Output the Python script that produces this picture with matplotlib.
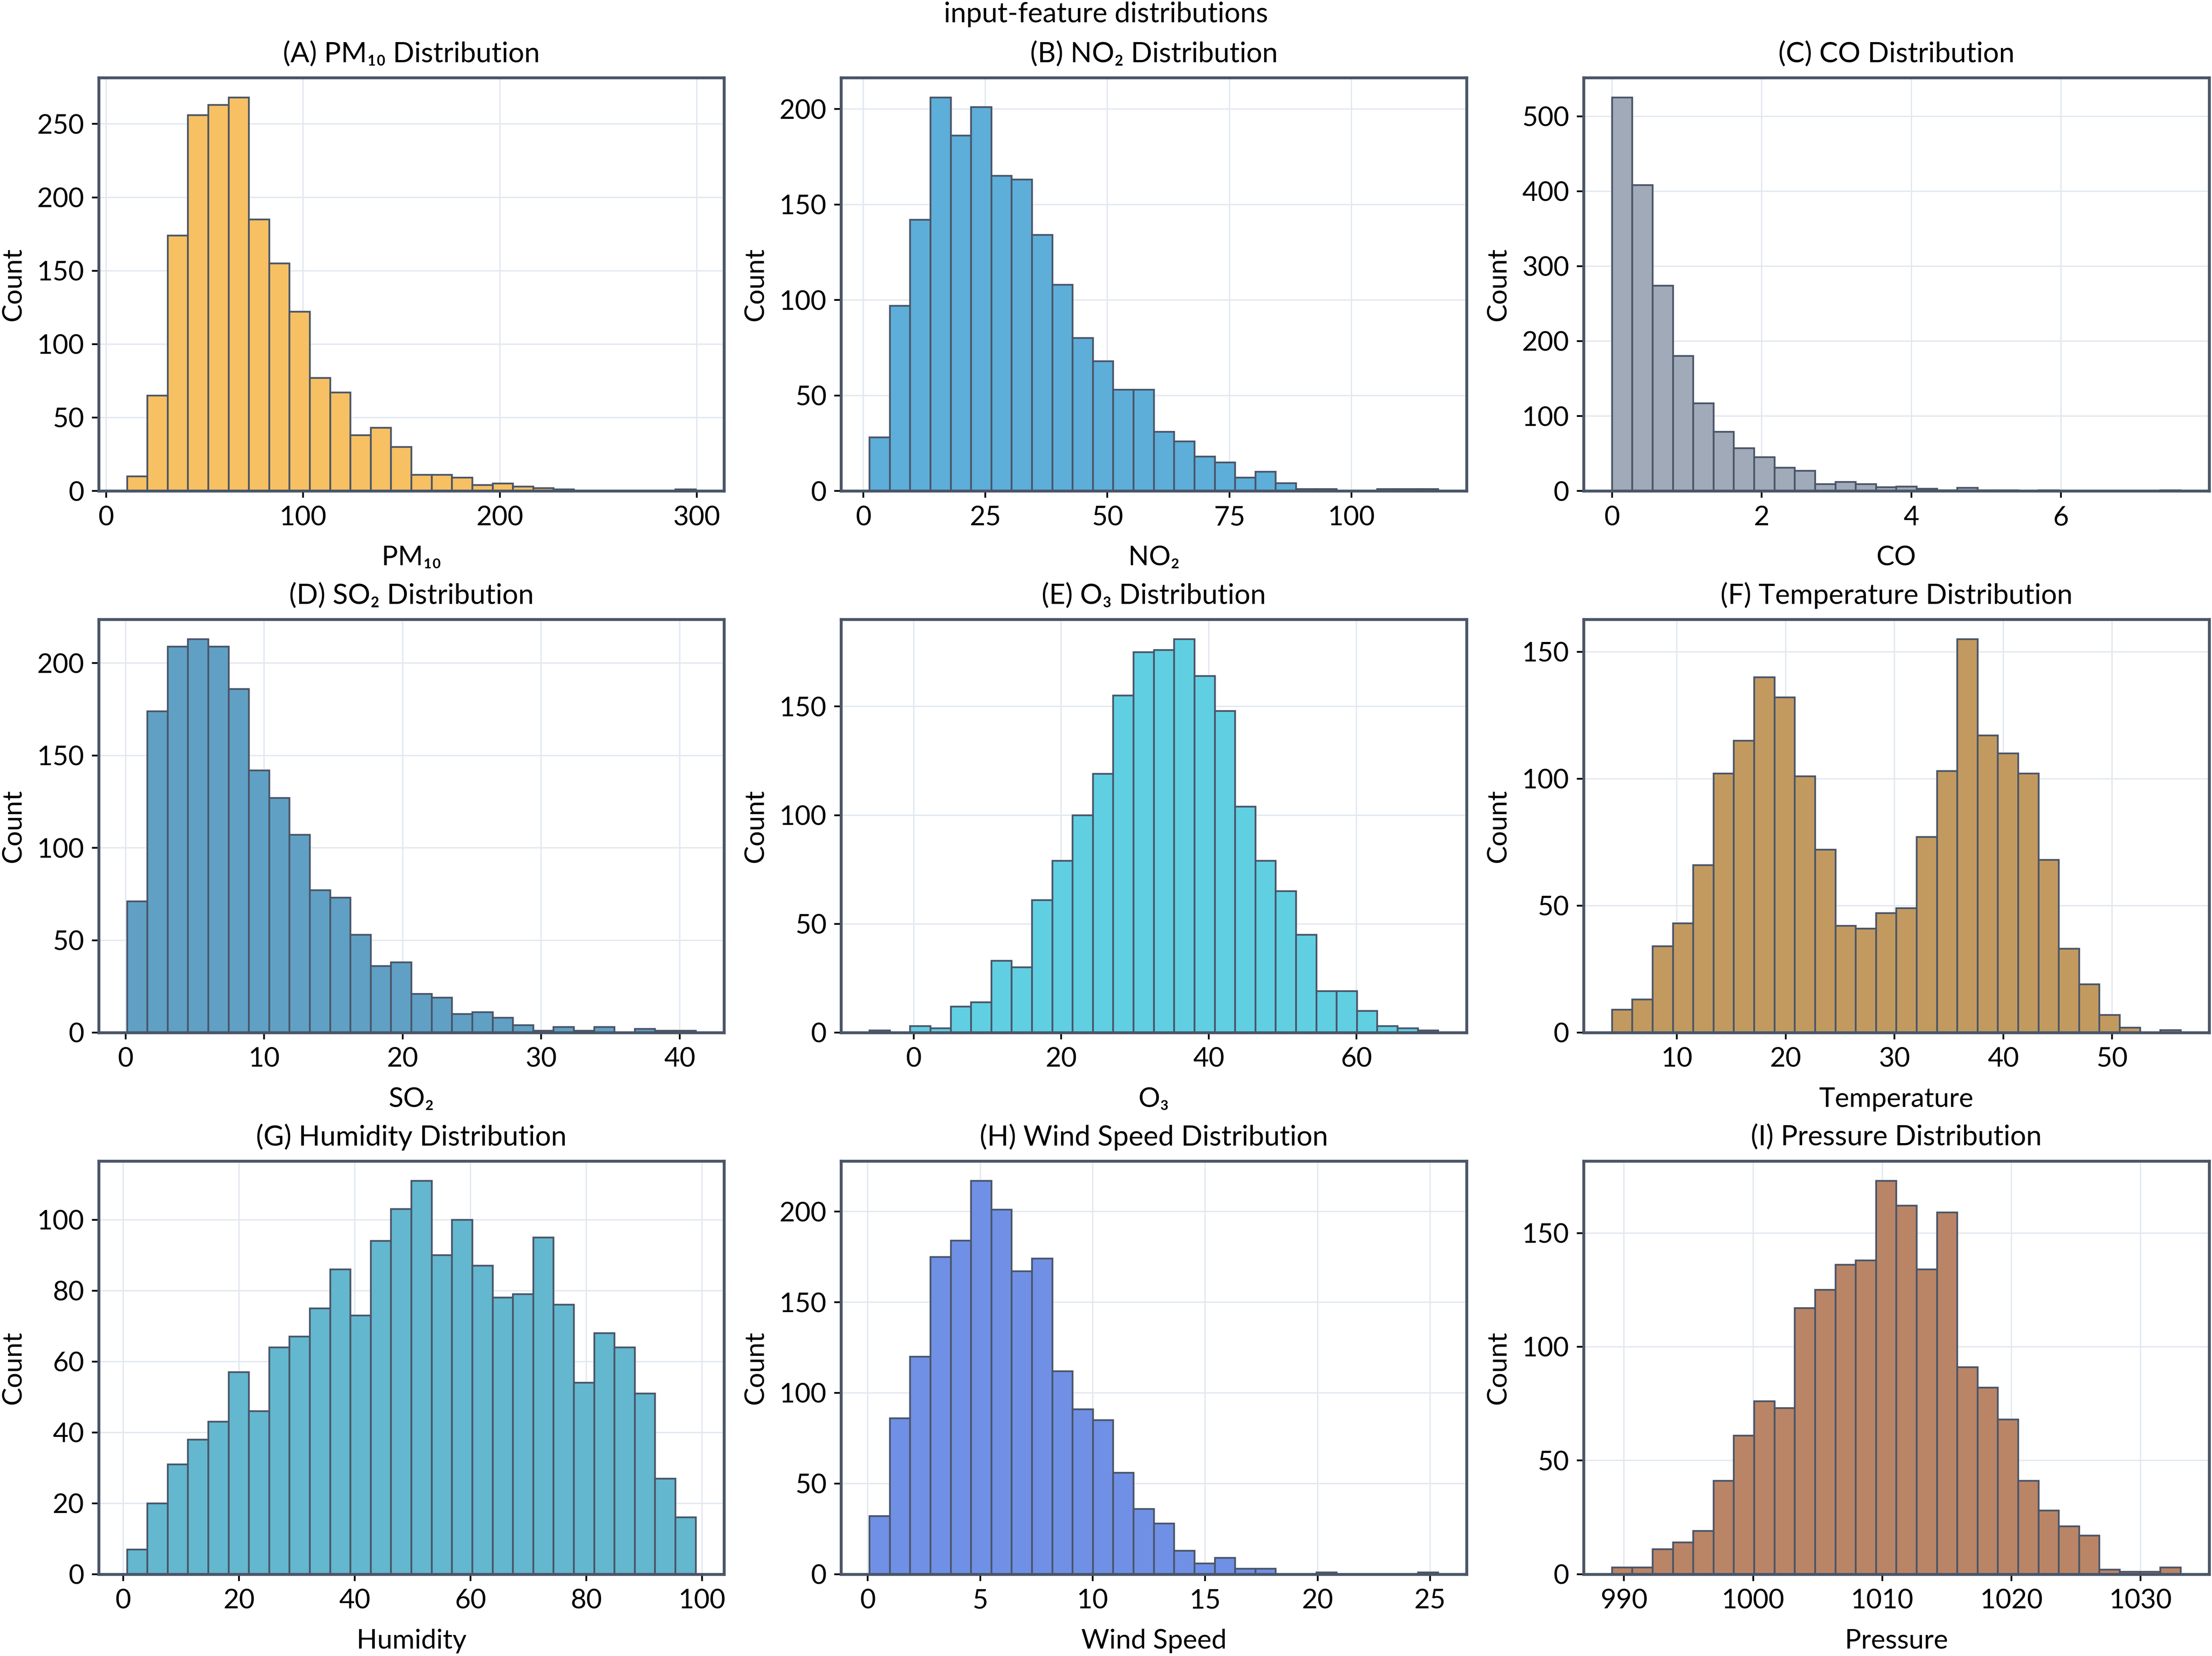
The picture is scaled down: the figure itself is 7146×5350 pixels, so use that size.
import numpy as np
import matplotlib
matplotlib.use("Agg")
import matplotlib.pyplot as plt
from matplotlib.ticker import MultipleLocator

plt.rcParams['font.family'] = ['Lato', 'DejaVu Sans']

# ---- data (bin ranges and counts) ----
titles = ["(A) PM₁₀ Distribution", "(B) NO₂ Distribution", "(C) CO Distribution",
          "(D) SO₂ Distribution", "(E) O₃ Distribution", "(F) Temperature Distribution",
          "(G) Humidity Distribution", "(H) Wind Speed Distribution", "(I) Pressure Distribution"]
xlabels = ["PM₁₀", "NO₂", "CO", "SO₂", "O₃", "Temperature", "Humidity", "Wind Speed", "Pressure"]

pm10_range = (10.6, 299.5)
pm10_counts = [10, 65, 174, 256, 263, 268, 185, 155, 122, 77, 67, 38, 43, 30, 11, 11, 9, 4, 5, 3,
               2, 1, 0, 0, 0, 0, 0, 1]
no2_range = (1.26, 117.8)
no2_counts = [28, 97, 142, 206, 186, 201, 165, 163, 134, 108, 80, 68, 53, 53, 31, 26, 18, 15, 7, 10,
              4, 1, 1, 0, 0, 1, 1, 1]
co_range = (0.0, 7.6)
co_counts = [525, 408, 274, 180, 117, 79, 57, 45, 31, 27, 9, 12, 9, 5, 6, 3, 1, 4, 1, 1,
             0, 1, 0, 0, 0, 0, 0, 1]
so2_range = (0.1, 41.16)
so2_counts = [71, 174, 209, 213, 209, 186, 142, 127, 107, 77, 73, 53, 36, 38, 21, 19, 10, 11, 8, 4,
              1, 3, 1, 3, 0, 2, 1, 1]
o3_range = (-5.98, 71.1)
o3_counts = [1, 0, 3, 2, 12, 14, 33, 30, 61, 79, 100, 119, 155, 175, 176, 181, 164, 148, 104, 79,
             65, 45, 19, 19, 10, 3, 2, 1]
temp_range = (4.04, 56.3)
temp_counts = [9, 13, 34, 43, 66, 102, 115, 140, 132, 101, 72, 42, 41, 47, 49, 77, 103, 155, 117, 110,
               102, 68, 33, 19, 7, 2, 0, 1]
hum_range = (0.66, 98.9)
hum_counts = [7, 20, 31, 38, 43, 57, 46, 64, 67, 75, 86, 73, 94, 103, 111, 90, 100, 87, 78, 79,
              95, 76, 54, 68, 64, 51, 27, 16]
wind_range = (0.08, 25.36)
wind_counts = [32, 86, 120, 175, 184, 217, 201, 167, 174, 112, 91, 85, 56, 36, 28, 13, 6, 9, 3, 3,
               0, 0, 1, 0, 0, 0, 0, 1]
pres_range = (989.08, 1033.1)
pres_counts = [3, 3, 11, 14, 19, 41, 61, 76, 73, 117, 125, 136, 138, 173, 162, 134, 159, 91, 82, 68,
               41, 28, 21, 17, 2, 1, 1, 3]

ranges = [pm10_range, no2_range, co_range, so2_range, o3_range, temp_range, hum_range, wind_range, pres_range]
counts = [pm10_counts, no2_counts, co_counts, so2_counts, o3_counts, temp_counts, hum_counts, wind_counts, pres_counts]
colors = ["#F6C063", "#5DAED9", "#A0AAB8", "#60A0C4", "#61CFE2", "#C29A60", "#63B7CE", "#7090E6", "#B98566"]
x_steps = [100, 25, 2, 10, 20, 10, 20, 5, 10]
y_steps = [50, 50, 100, 50, 50, 50, 20, 50, 50]

SPINE = "#4a5568"
FS = 14

fig, axes = plt.subplots(3, 3, figsize=(7146 / 450, 5350 / 450), dpi=450)
fig.subplots_adjust(left=0.0446, right=0.9987, top=0.953, bottom=0.0494, wspace=0.187, hspace=0.311)

for ax, title, xl, rng, cnt, col, xs, ys in zip(axes.flat, titles, xlabels, ranges, counts, colors,
                                                x_steps, y_steps):
    cnt = np.asarray(cnt, dtype=float)
    edges = np.linspace(rng[0], rng[1], len(cnt) + 1)
    ax.hist(edges[:-1], bins=edges, weights=cnt, color=col, edgecolor=SPINE, linewidth=0.9, zorder=2)
    ax.set_title(title, fontsize=14.5, pad=8)
    ax.set_xlabel(xl, fontsize=FS, labelpad=8)
    ax.set_ylabel("Count", fontsize=FS, labelpad=6)
    ax.xaxis.set_major_locator(MultipleLocator(xs))
    ax.yaxis.set_major_locator(MultipleLocator(ys))
    ax.grid(True, color="#e2e8f0", linewidth=0.7, zorder=0)
    ax.set_axisbelow(True)
    for s in ax.spines.values():
        s.set_color(SPINE)
        s.set_linewidth(1.5)
    ax.tick_params(labelsize=FS, length=3.5, width=0.9, color="black", pad=4)

fig.suptitle("input-feature distributions", fontsize=14.5, y=0.999, va="top")

fig.savefig("out.png", dpi=450, facecolor="white")
